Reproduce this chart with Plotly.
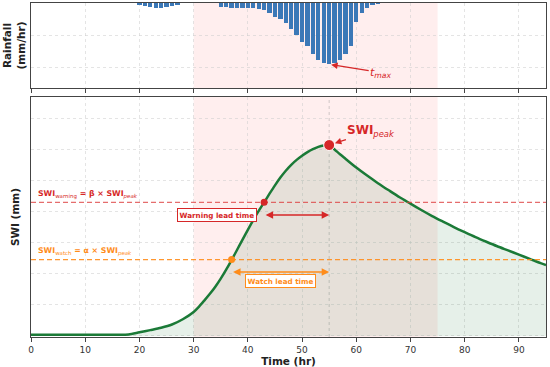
import plotly.graph_objects as go
from plotly.subplots import make_subplots

# ---------------- data ----------------
rain_t = [20, 21, 22, 23, 24, 25, 26, 27,
          35, 36, 37, 38, 39, 40, 41, 42, 43, 44, 45, 46, 47, 48, 49, 50,
          51, 52, 53, 54, 55, 56, 57, 58, 59, 60, 61, 62, 63, 64]
rain_v = [0.6, 0.9, 1.2, 1.5, 1.5, 1.2, 0.9, 0.6,
          1.3, 1.3, 1.4, 1.4, 1.4, 1.5, 1.6, 1.8, 2.2, 3.2, 4.2, 5.0, 6.3, 8.0, 9.8, 11.9,
          13.4, 15.7, 17.5, 18.4, 18.9, 18.6, 17.5, 15.7, 13.4, 5.8, 3.0, 1.6, 0.6, 0.3]

swi_t = [0, 4, 8, 12, 16, 18, 20, 22, 24, 26, 28, 30, 31, 32, 33, 34, 35, 36, 37, 38, 39,
         40, 41, 42, 43, 44, 45, 46, 47, 48, 49, 50, 51, 52, 53, 54, 55,
         56, 57, 58, 59, 60, 62, 64, 66, 68, 70, 72, 74, 76, 78, 80, 82, 84, 86, 88, 90, 92, 94, 95]
swi_v = [0.8, 0.8, 0.8, 0.8, 0.8, 1.0, 2.4, 3.8, 5.3, 7.4, 10.8, 15.5, 19.0, 23.0, 27.2, 31.8, 37.0, 42.8, 49.0, 55.5, 62.0,
         68.5, 74.8, 80.7, 86.2, 91.8, 97.2, 102.2, 106.6, 110.4, 113.6, 116.3, 118.6, 120.5, 122.0, 122.9, 123.2,
         120.3, 117.3, 114.4, 111.5, 108.7, 103.5, 98.6, 94.0, 89.5, 85.4, 81.3, 77.4, 73.8, 70.3, 67.0, 63.8,
         60.8, 57.9, 55.2, 52.5, 49.8, 47.0, 45.8]

alpha = 0.4
beta = 0.7
t_peak = 55
swi_peak = 123.2
t_watch = 37
t_warning = 43
storm_start, storm_end = 30, 75
x_ticks = [0, 10, 20, 30, 40, 50, 60, 70, 80, 90]

swi_watch = alpha * swi_peak
swi_warning = beta * swi_peak
rain_max = max(rain_v)
t_max = rain_t[rain_v.index(rain_max)]

RED = "#d62728"
ORANGE = "#ff8c1a"
GREEN = "#1b7a37"
BLUE = "#3b78b7"
FONT = "DejaVu Sans"

fig = make_subplots(rows=2, cols=1, shared_xaxes=True, vertical_spacing=0.03)

fig.add_trace(go.Bar(x=rain_t, y=rain_v, width=0.8, marker=dict(color=BLUE, line=dict(width=0)),
                     showlegend=False), row=1, col=1)

fig.add_trace(go.Scatter(x=swi_t, y=swi_v, mode="lines", line=dict(color=GREEN, width=2.5, shape="spline", smoothing=0.8),
                         fill="tozeroy", fillcolor="rgba(27,120,55,0.11)", showlegend=False), row=2, col=1)

fig.add_trace(go.Scatter(x=[0, 95], y=[swi_warning, swi_warning], mode="lines",
                         line=dict(color="rgba(220,60,60,0.75)", width=1.3, dash="5px,3px"), showlegend=False), row=2, col=1)
fig.add_trace(go.Scatter(x=[0, 95], y=[swi_watch, swi_watch], mode="lines",
                         line=dict(color="rgba(255,140,26,0.9)", width=1.3, dash="5px,3px"), showlegend=False), row=2, col=1)

fig.add_trace(go.Scatter(x=[t_warning], y=[swi_warning], mode="markers",
                         marker=dict(color=RED, size=7), showlegend=False), row=2, col=1)
fig.add_trace(go.Scatter(x=[t_watch], y=[swi_watch], mode="markers",
                         marker=dict(color=ORANGE, size=7), showlegend=False), row=2, col=1)
fig.add_trace(go.Scatter(x=[t_peak], y=[swi_peak], mode="markers",
                         marker=dict(color=RED, size=11, line=dict(color="white", width=1)), showlegend=False), row=2, col=1)

for xr, yref in [("x", "y domain"), ("x2", "y2 domain")]:
    fig.add_shape(type="rect", xref=xr, yref=yref, x0=storm_start, x1=storm_end, y0=0, y1=1,
                  fillcolor="rgba(255,90,90,0.1)", line=dict(width=0), layer="below")
fig.add_shape(type="line", xref="x2", yref="y2 domain", x0=t_peak, x1=t_peak, y0=0, y1=1,
              line=dict(color="rgba(150,150,150,0.45)", width=1, dash="dot"), layer="below")

ann = []
ann.append(dict(x=t_peak, y=swi_peak, xref="x2", yref="y2", ax=62.8, ay=132, axref="x2", ayref="y2",
                text="<b>SWI</b><sub><i>peak</i></sub>", font=dict(family=FONT, size=12, color=RED),
                showarrow=True, arrowhead=2, arrowsize=1, arrowwidth=1.3, arrowcolor=RED, standoff=6))
ann.append(dict(x=t_max, y=rain_max, xref="x", yref="y", ax=64.6, ay=21.5, axref="x", ayref="y",
                text="<i>t</i><sub><i>max</i></sub>", font=dict(family=FONT, size=11, color=RED),
                showarrow=True, arrowhead=2, arrowsize=1, arrowwidth=1.3, arrowcolor=RED, standoff=2))
ann.append(dict(x=1, y=91.5, xref="x2", yref="y2", xanchor="left", yanchor="middle", showarrow=False,
                text="<b>SWI</b><sub>warning</sub><b> = β × SWI</b><sub><i>peak</i></sub>",
                font=dict(family=FONT, size=7.8, color=RED)))
ann.append(dict(x=1, y=54.5, xref="x2", yref="y2", xanchor="left", yanchor="middle", showarrow=False,
                text="<b>SWI</b><sub>watch</sub><b> = α × SWI</b><sub><i>peak</i></sub>",
                font=dict(family=FONT, size=7.8, color=ORANGE)))
ann.append(dict(x=t_peak, y=78, xref="x2", yref="y2", ax=t_warning, ay=78, axref="x2", ayref="y2",
                text="", showarrow=True, arrowside="end+start", arrowhead=2, startarrowhead=2,
                arrowsize=1, startarrowsize=1, arrowwidth=1.5, arrowcolor=RED))
ann.append(dict(x=t_peak, y=41.3, xref="x2", yref="y2", ax=t_watch, ay=41.3, axref="x2", ayref="y2",
                text="", showarrow=True, arrowside="end+start", arrowhead=2, startarrowhead=2,
                arrowsize=1, startarrowsize=1, arrowwidth=1.5, arrowcolor=ORANGE))
ann.append(dict(x=34.3, y=78, xref="x2", yref="y2", showarrow=False, text="<b>Warning lead time</b>",
                font=dict(family=FONT, size=7.2, color=RED), bgcolor="white", bordercolor=RED,
                borderwidth=1, borderpad=1.5))
ann.append(dict(x=46, y=35.5, xref="x2", yref="y2", showarrow=False, text="<b>Watch lead time</b>",
                font=dict(family=FONT, size=7.2, color=ORANGE), bgcolor="white", bordercolor=ORANGE,
                borderwidth=1, borderpad=1.5))

axis_common = dict(showline=True, linecolor="#444", linewidth=1, mirror=True,
                   showgrid=True, gridcolor="rgba(205,205,205,0.55)", griddash="dot", gridwidth=1,
                   zeroline=False, automargin=False)

fig.update_layout(
    width=550, height=367, autosize=False,
    margin=dict(l=31, r=4, t=3, b=30),
    plot_bgcolor="white", paper_bgcolor="white",
    font=dict(family=FONT, size=9, color="#333"),
    bargap=0,
    annotations=ann,
    xaxis=dict(range=[0, 95], tickvals=x_ticks, showticklabels=False, ticks="outside", ticklen=4,
               tickcolor="#444", domain=[0, 1], **axis_common),
    yaxis=dict(range=[26.2, 0], dtick=10, showticklabels=False, ticks="", domain=[0.7455, 1],
               title=dict(text="<b>Rainfall<br>(mm/hr)</b>", font=dict(size=10.5, color="#222"), standoff=2),
               **axis_common),
    xaxis2=dict(range=[0, 95], tickvals=x_ticks, ticks="outside", ticklen=4, tickcolor="#444",
                tickfont=dict(size=9, color="#333"),
                title=dict(text="<b>Time (hr)</b>", font=dict(size=10.5, color="#222"), standoff=1),
                **axis_common),
    yaxis2=dict(range=[-0.65, 154.2], dtick=20, showticklabels=False, ticks="", domain=[0, 0.7186],
                title=dict(text="<b>SWI (mm)</b>", font=dict(size=10.5, color="#222"), standoff=8),
                **axis_common),
)

post = ("document.body.style.margin='0px';document.body.style.padding='0px';"
        "document.body.style.overflow='hidden';"
        "var gd=document.getElementById('{plot_id}');Plotly.relayout(gd,{width:550,height:367});")
fig.write_html("out.html", config={"responsive": False, "displayModeBar": False}, post_script=post)
